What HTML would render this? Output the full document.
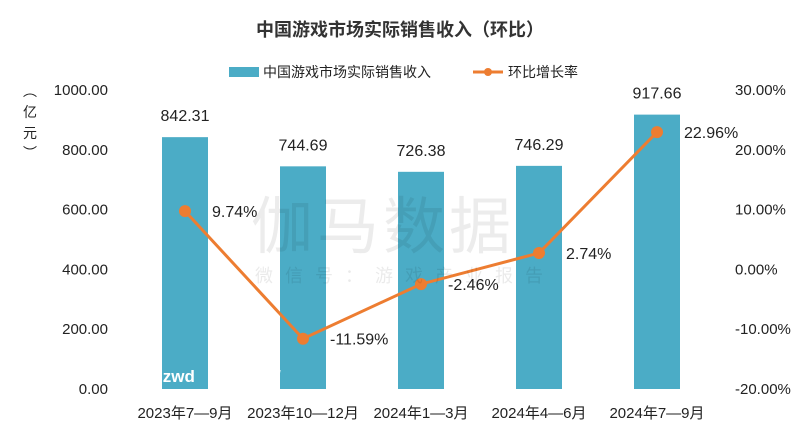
<!DOCTYPE html>
<html><head><meta charset="utf-8"><style>
body{margin:0;background:#fff;}
svg text{font-family:"Liberation Sans","Noto Sans CJK SC",sans-serif;}
</style></head><body>
<svg width="800" height="434" viewBox="0 0 800 434">
<text x="400" y="36" text-anchor="middle" font-size="18" font-weight="bold" fill="#333">中国游戏市场实际销售收入（环比）</text>
<g>
<rect x="229" y="67" width="30" height="10" fill="#4BACC6"/>
<text x="263" y="77" font-size="14" fill="#222">中国游戏市场实际销售收入</text>
<line x1="473" y1="72" x2="503" y2="72" stroke="#ED7D31" stroke-width="3"/>
<circle cx="488" cy="72" r="4" fill="#ED7D31"/>
<text x="508" y="77" font-size="14" fill="#222">环比增长率</text>
</g>
<g fill="#222" font-size="14">
<text x="30" y="96" text-anchor="middle">︵</text>
<text x="30" y="117" text-anchor="middle">亿</text>
<text x="30" y="138" text-anchor="middle">元</text>
<text x="30" y="158" text-anchor="middle">︶</text>
</g>
<g id="plot"></g>
<text x="251" y="248" font-size="62" fill="#000" opacity="0.07" letter-spacing="4">伽马数据</text>
<text x="255" y="282" font-size="18" fill="#000" opacity="0.08" letter-spacing="12">微信号：游戏产业报告</text>
<text x="158" y="382" font-size="17" font-weight="bold" fill="#fff">izwd</text>
<text x="276" y="382" font-size="17" font-weight="bold" fill="#fff">/</text>
</svg>
<script>
const categories=["2023年7—9月","2023年10—12月","2024年1—3月","2024年4—6月","2024年7—9月"];
const revenue=[842.31,744.69,726.38,746.29,917.66];
const growth=[9.74,-11.59,-2.46,2.74,22.96];
const leftTicks=[0,200,400,600,800,1000];
const rightTicks=[-20,-10,0,10,20,30];
const NS="http://www.w3.org/2000/svg";
const g=document.getElementById('plot');
const yTop=90,yBot=389,x0=126,step=118;
const yL=v=>yBot-(v/1000)*(yBot-yTop);
const yR=v=>yBot-((v+20)/50)*(yBot-yTop);
const xC=i=>x0+step*(i+0.5);
function mk(tag,a,txt){const e=document.createElementNS(NS,tag);for(const k in a)e.setAttribute(k,a[k]);if(txt!=null)e.textContent=txt;g.appendChild(e);return e;}
leftTicks.forEach(t=>{const e=mk('text',{x:108,y:yL(t)+5,'text-anchor':'end','font-size':15,fill:'#222'},t.toFixed(2));

});
rightTicks.forEach(t=>{const e=mk('text',{x:735,y:yR(t)+5,'font-size':15,fill:'#222'},t.toFixed(2)+'%');

});
revenue.forEach((v,i)=>{const b=mk('rect',{x:xC(i)-23,y:yL(v),width:46,height:yBot-yL(v),fill:'#4BACC6'});


const l=mk('text',{x:xC(i),y:yL(v)-16,'text-anchor':'middle','font-size':16,fill:'#222'},v.toFixed(2));


const c=mk('text',{x:xC(i),y:418,'text-anchor':'middle','font-size':15,fill:'#222'},categories[i]);

});
const pl=mk('polyline',{points:growth.map((v,i)=>xC(i)+','+yR(v)).join(' '),fill:'none',stroke:'#ED7D31','stroke-width':3});


growth.forEach((v,i)=>{const p=mk('circle',{cx:xC(i),cy:yR(v),r:6,fill:'#ED7D31'});


const l=mk('text',{x:xC(i)+27,y:yR(v)+6,'font-size':16,fill:'#222'},v.toFixed(2)+'%');

});
</script>
</body></html>
